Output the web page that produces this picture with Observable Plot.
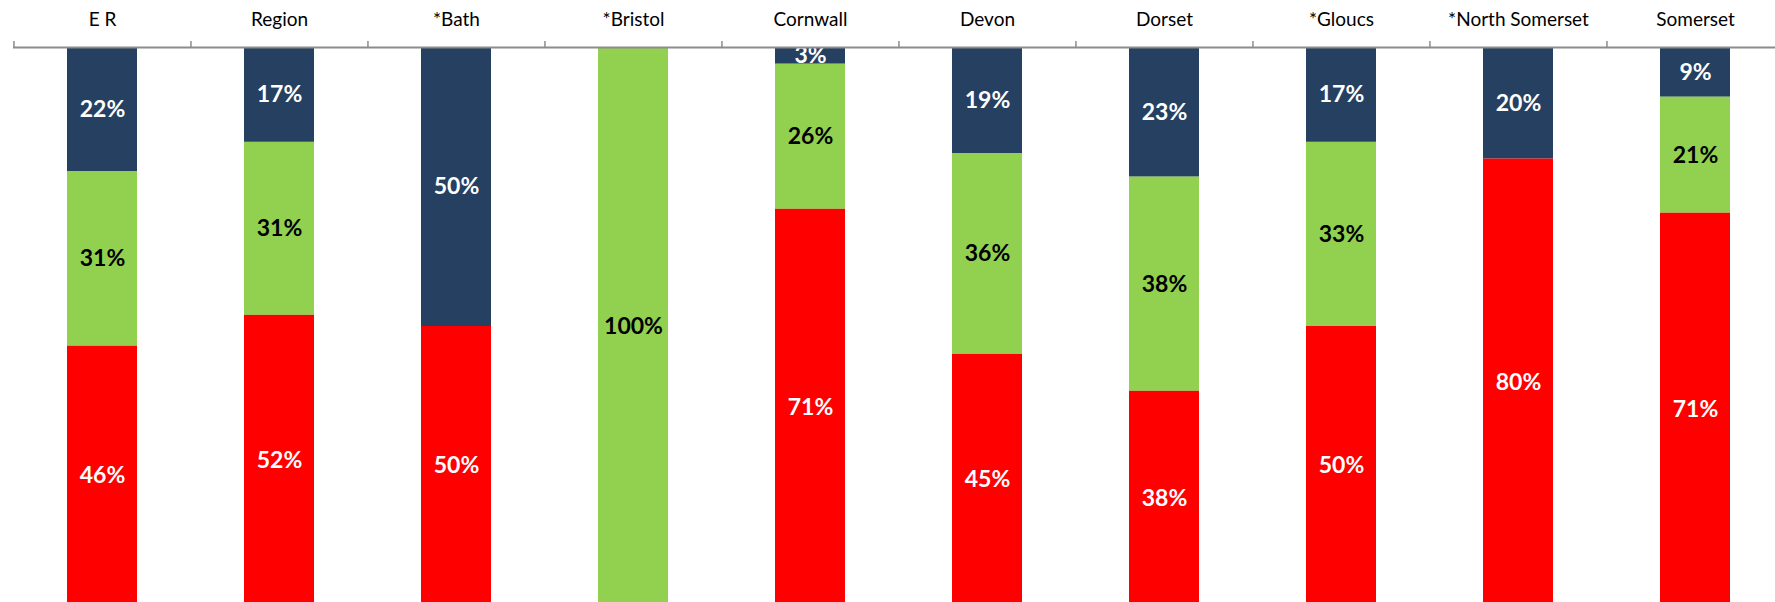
<!DOCTYPE html>
<html>
<head>
<meta charset="utf-8">
<script src="https://cdn.jsdelivr.net/npm/d3@7"></script>
<script src="https://cdn.jsdelivr.net/npm/@observablehq/plot@0.6"></script>
<style>
  html, body { margin: 0; padding: 0; background: #fff; overflow: hidden; }
  #chart svg { display: block; overflow: visible; }
</style>
</head>
<body>
<div id="chart"></div>
<script>
const categories = ["E R", "Region", "*Bath", "*Bristol", "Cornwall", "Devon", "Dorset", "*Gloucs", "*North Somerset", "Somerset"];
const topShare    = [22, 17, 50,   0,  3, 19, 23, 17, 20,  9];
const middleShare = [31, 31,  0, 100, 26, 36, 38, 33,  0, 21];
const bottomShare = [46, 52, 50,   0, 71, 45, 38, 50, 80, 71];
const seriesNames = ["Top", "Middle", "Bottom"];
const seriesColors = ["#254061", "#92D050", "#FF0000"];

const seriesValues = [topShare, middleShare, bottomShare];
const rows = [];
categories.forEach((cat, i) => {
  seriesNames.forEach((s, j) => {
    rows.push({cat, series: s, value: seriesValues[j][i]});
  });
});

const W = 1775, H = 602;
const xRange = [12.7, 1783.8];
const step = (xRange[1] - xRange[0]) / categories.length;
const axisY = 47;

const stackOpts = {x: "cat", y: "value", z: "series", order: null, offset: "normalize"};
const labelFor = pred => d => (d.value > 0 && pred(d)) ? d.value + "%" : null;

const chart = Plot.plot({
  width: W,
  height: H,
  marginTop: axisY,
  marginBottom: 0,
  marginLeft: 13,
  marginRight: 0,
  style: {fontFamily: "Lato, sans-serif", background: "#fff"},
  x: {type: "band", domain: categories, range: xRange, paddingInner: 0.605, paddingOuter: 0.3025, axis: null, label: null},
  y: {domain: [0, 1], range: [axisY, 605], axis: null},
  color: {domain: seriesNames, range: seriesColors},
  marks: [
    Plot.barY(rows, Plot.stackY({...stackOpts, fill: "series"})),
    Plot.text(rows, Plot.stackY({...stackOpts,
      text: labelFor(d => d.series !== "Middle"), fill: "white", fontWeight: "bold", fontSize: 23})),
    Plot.text(rows, Plot.stackY({...stackOpts,
      text: labelFor(d => d.series === "Middle"), fill: "black", fontWeight: "bold", fontSize: 23})),
    Plot.ruleY([0], {stroke: "#8c8c8c", strokeWidth: 2}),
    Plot.ruleX(categories, {x: d => d, dx: -step / 2, stroke: "#8c8c8c", strokeWidth: 1.5,
      insetTop: -6, insetBottom: H - axisY}),
    Plot.axisX({anchor: "top", tickSize: 0, tickPadding: 22, fontSize: 19, fill: "#000", label: null, fontFamily: "Lato, sans-serif"})
  ]
});
document.getElementById("chart").appendChild(chart);
</script>
</body>
</html>
